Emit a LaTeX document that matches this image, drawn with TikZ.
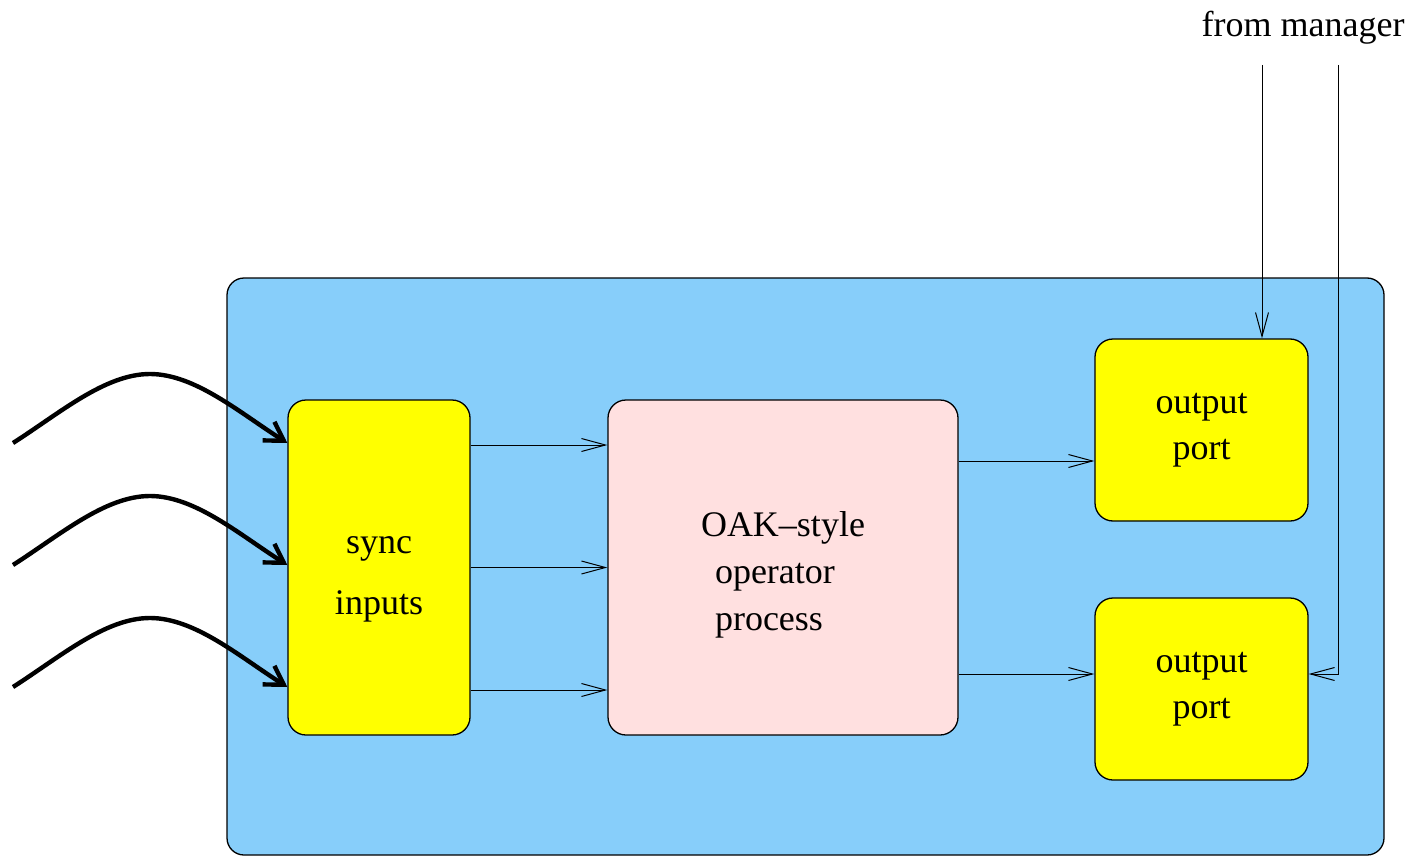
\documentclass[tikz,border=0pt]{standalone}
\usepackage{fontspec}
\setmainfont{Liberation Serif}
\usepackage{tikz}
\usetikzlibrary{arrows.meta}
\definecolor{peBlue}{HTML}{87CEFA}
\definecolor{opPink}{HTML}{FFE0E0}
\definecolor{portYellow}{RGB}{255,255,0}
\tikzstyle{box} = [shape = rectangle, draw, line width=0.65pt, rounded corners=9pt, inner sep=0pt, align=center]
\tikzstyle{peNode} = [box, fill = peBlue, rounded corners=8.5pt, minimum width=578.5pt, minimum height=288.5pt]
\tikzstyle{syncNode} = [box, fill = portYellow, minimum width=91pt, minimum height=167.5pt]
\tikzstyle{opNode} = [box, fill = opPink, minimum width=175pt, minimum height=167.5pt]
\tikzstyle{portNode} = [box, fill = portYellow, minimum width=106.5pt, minimum height=91pt, font=\fontsize{18}{23}\selectfont]
\tikzstyle{boxText} = [inner sep=0pt, font=\fontsize{18}{23.5}\selectfont]
\tikzstyle{flow} = [-{Straight Barb[length=12pt, width=6.5pt]}, line width=0.5pt]
\tikzstyle{inflow} = [-{Straight Barb[length=9pt, width=11pt]}, line width=2.2pt]

\begin{document}
\begin{tikzpicture}[x=0.5pt, y=-0.5pt]
			\useasboundingbox (0,0) rectangle (1413,856);
			% processing element
			\node (pe) at (805.5,566.5) [peNode] {};
			\node (sync) at (379,567.5) [syncNode] {};
			\node (syncText) at (379,579) [boxText, align=center, font=\fontsize{18}{30.5}\selectfont] {
				sync\\inputs
			};
			\node (oak) at (783,567.5) [opNode] {};
			\node (oakText) at (790,575) [boxText, align=left] {
				\hspace*{-7pt}OAK--style\\operator\\process
			};
			\node (port1) at (1201.5,430) [portNode] {
				\raisebox{-1.5pt}{output}\\\raisebox{-1.5pt}{port}
			};
			\node (port2) at (1201.5,689) [portNode] {
				\raisebox{-1.5pt}{output}\\\raisebox{-1.5pt}{port}
			};
			\node (mgr) at (1303,28) [font=\fontsize{18}{23}\selectfont] {from manager};
			% loose ends
			\coordinate (in1) at (13,443);
			\coordinate (in2) at (13,565);
			\coordinate (in3) at (13,687);
			\coordinate (m1) at (1262,65);
			\coordinate (m2) at (1338,65);
			\coordinate (p1) at ([yshift=-15.5pt]port1.west);
			\coordinate (p2) at ([yshift=7.5pt]port2.west);
			\coordinate (p2e) at ([yshift=7.5pt]port2.east);
			% incoming streams
			\draw[inflow] (in1) .. controls (60,413) and (105,374) .. (150,374) .. controls (195,374) and (240,413) .. ([yshift=62.25pt]sync.west);
			\draw[inflow] (in2) .. controls (60,535) and (105,496) .. (150,496) .. controls (195,496) and (240,535) .. ([yshift=1.25pt]sync.west);
			\draw[inflow] (in3) .. controls (60,657) and (105,618) .. (150,618) .. controls (195,618) and (240,657) .. ([yshift=-59.75pt]sync.west);
			% sync -> operator
			\draw[flow] ([yshift=61.25pt]sync.east) -- ([yshift=61.25pt]oak.west);
			\draw[flow] (sync.east) -- (oak.west);
			\draw[flow] ([yshift=-61.25pt]sync.east) -- ([yshift=-61.25pt]oak.west);
			% operator -> ports
			\draw[flow] (oak.east |- p1) -- (p1);
			\draw[flow] (oak.east |- p2) -- (p2);
			% control from manager
			\draw[flow] (m1) -- (m1 |- port1.north);
			\draw[flow] (m2) |- (p2e);
\end{tikzpicture}
\end{document}
